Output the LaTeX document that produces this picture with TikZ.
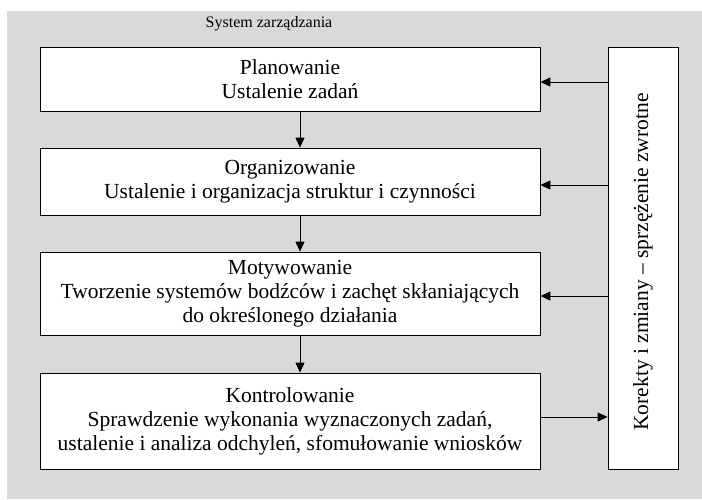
\documentclass[tikz,border=0pt]{standalone}
\usepackage{fontspec}
\setmainfont{Liberation Serif}
\usetikzlibrary{arrows.meta,calc}

\definecolor{tlo}{RGB}{217,217,217}

\begin{document}
\begin{tikzpicture}[x=1pt,y=-1pt,
		napis/.style={font=\fontsize{21.5}{24}\selectfont,align=center},
		etap/.style={napis,draw=black,fill=white,line width=0.8pt,minimum width=500pt,inner sep=0pt},
		strz/.style={line width=1pt,-{Triangle[length=10pt,width=9pt]}}]
		
		% Background of the system
		\useasboundingbox (0,0) rectangle (702,499);
		\fill[tlo] (7,11) rectangle (702,499);
		\node[font=\fontsize{16}{19}\selectfont] (tytul) at (269,24) {System zarządzania};
		
		% Stages of management
		\node[etap,minimum height=64pt] (plan) at (290,79) {Planowanie\\Ustalenie zadań};
		\node[etap,minimum height=67pt] (org) at (290,181.5) {Organizowanie\\Ustalenie i organizacja struktur i czynności};
		\node[etap,minimum height=83pt] (mot) at (290,293.5) {Motywowanie\\Tworzenie systemów bodźców i zachęt skłaniających\\do określonego działania};
		\node[etap,minimum height=96pt] (kon) at (290,421) {Kontrolowanie\\Sprawdzenie wykonania wyznaczonych zadań,\\ustalenie i analiza odchyleń, sfomułowanie wniosków};
		
		% Feedback box
		\node[draw=black,fill=white,line width=0.8pt,minimum width=70pt,minimum height=422pt,inner sep=0pt] (kor) at (643,258) {};
		\node[napis,rotate=90] (kortxt) at (643,262) {Korekty i zmiany -- sprzężenie zwrotne};
		
		% Arrows between the stages
		\draw[strz] ([xshift=10pt]plan.south) -- ([xshift=10pt]org.north);
		\draw[strz] ([xshift=10pt]org.south) -- ([xshift=10pt]mot.north);
		\draw[strz] ([xshift=10pt]mot.south) -- ([xshift=10pt]kon.north);
		
		% Feedback arrows
		\draw[strz] ($(kor.west |- plan.east)+(0,3)$) -- ($(plan.east)+(0,3)$);
		\draw[strz] ($(kor.west |- org.east)+(0,3.5)$) -- ($(org.east)+(0,3.5)$);
		\draw[strz] ($(kor.west |- mot.east)+(0,2.5)$) -- ($(mot.east)+(0,2.5)$);
		\draw[strz] ($(kon.east)+(0,-4)$) -- ($(kor.west |- kon.east)+(0,-4)$);
		
	\end{tikzpicture}
\end{document}
